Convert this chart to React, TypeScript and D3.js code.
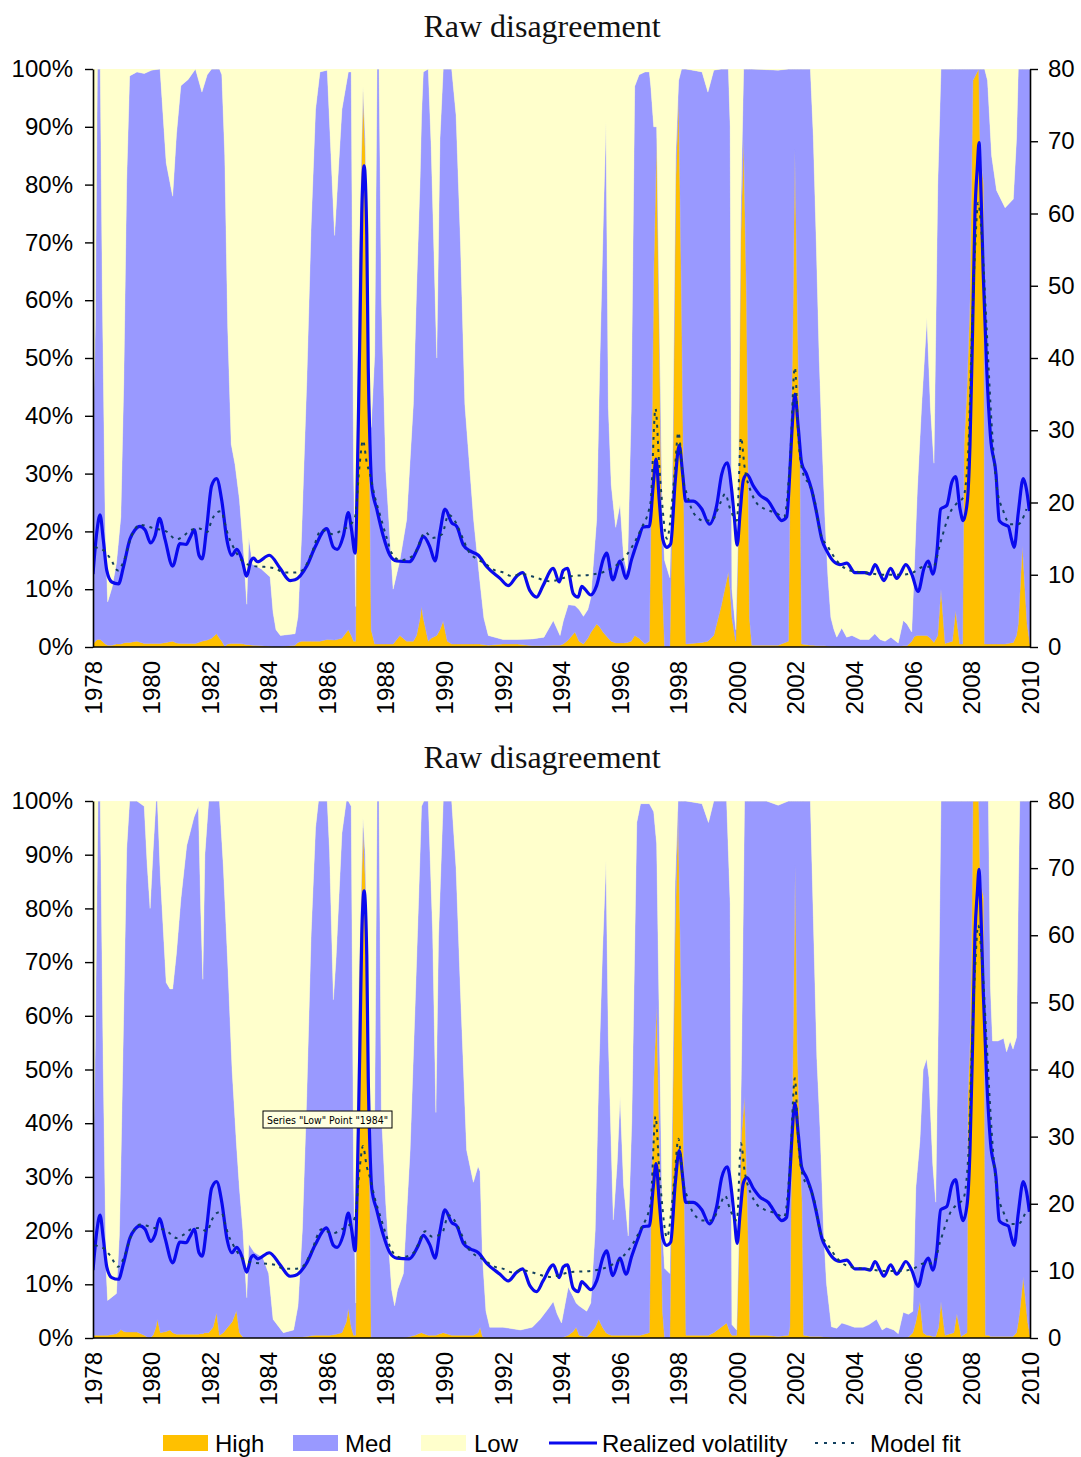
import { useEffect, useRef } from "react";
import * as d3 from "d3";

// [year, High %, Med %]  (Low = the rest up to 100%)
type ShareRow = [number, number, number];
type Point = [number, number];

const topShares: ShareRow[] = [
  [1978.0, 0.5, 35], [1978.08, 1, 55], [1978.15, 1.3, 98.7], [1978.25, 1.3, 98.7], [1978.32, 1, 60],
  [1978.42, 0.5, 20], [1978.5, 0.3, 7.5], [1978.65, 0.3, 10], [1978.8, 0.5, 14], [1978.95, 0.5, 22],
  [1979.05, 0.7, 45], [1979.15, 0.8, 80], [1979.25, 0.8, 98], [1979.5, 1, 98.5], [1979.75, 0.6, 98.6],
  [1980.0, 0.6, 99.2], [1980.29, 0.6, 99.4], [1980.5, 0.8, 83], [1980.72, 1, 77], [1980.85, 0.7, 88],
  [1981.0, 0.6, 96.5], [1981.25, 0.6, 97.6], [1981.5, 0.6, 99.4], [1981.72, 1, 95], [1981.9, 1.2, 97.8],
  [1982.05, 1.5, 98.5], [1982.22, 2.3, 97.7], [1982.32, 1.5, 98.5], [1982.4, 1, 98], [1982.5, 0.1, 85],
  [1982.6, 0.5, 55], [1982.72, 0.6, 34.5], [1982.85, 0.6, 31], [1983.0, 0.6, 25], [1983.15, 0.5, 15.5],
  [1983.25, 0.4, 7], [1983.32, 0.4, 18.6], [1983.45, 0.3, 14], [1983.75, 0.2, 13.3], [1984.05, 0.1, 12],
  [1984.15, 0, 6], [1984.25, 0, 3], [1984.4, 0, 2], [1984.9, 0.3, 2], [1985.0, 0.8, 4.5],
  [1985.12, 1, 18], [1985.3, 1, 45], [1985.45, 1, 72], [1985.6, 1, 92], [1985.75, 1, 98.5],
  [1986.0, 1.3, 98.5], [1986.25, 1.2, 70], [1986.5, 1.5, 91.5], [1986.72, 3, 96.5], [1986.82, 2, 97.5],
  [1986.9, 1, 30], [1986.97, 1, 6], [1987.0, 30, 2], [1987.08, 65, 2], [1987.22, 96, 1],
  [1987.3, 85, 3], [1987.42, 45, 5], [1987.5, 3, 35], [1987.62, 0.5, 50], [1987.7, 0.5, 99.5],
  [1987.77, 0.5, 99.5], [1987.85, 0.5, 60], [1988.0, 0.5, 30], [1988.25, 0.5, 9.5], [1988.48, 2, 13],
  [1988.71, 1, 21], [1988.94, 1, 41], [1989.05, 2, 60], [1989.17, 5, 76], [1989.22, 7, 85],
  [1989.28, 5, 94.5], [1989.45, 1, 99], [1989.55, 1.5, 85], [1989.74, 2, 48], [1989.85, 3, 85],
  [1989.96, 4.5, 95.5], [1990.1, 1, 99], [1990.25, 0.5, 99.5], [1990.4, 0.5, 91.5], [1990.55, 0.5, 69.5],
  [1990.7, 0.5, 41.5], [1990.85, 0.5, 31.5], [1991.0, 0.5, 21.5], [1991.2, 0.5, 11.5], [1991.35, 0.4, 4.6],
  [1991.5, 0.3, 1.7], [1992.0, 0.5, 0.8], [1992.5, 0.5, 0.8], [1993.0, 0.2, 1.2], [1993.4, 0.2, 1.5],
  [1993.72, 0.3, 4.3], [1993.95, 0.3, 1.7], [1994.06, 0.5, 4], [1994.23, 1.2, 6.1], [1994.46, 2.6, 4.6],
  [1994.6, 1, 5.5], [1994.75, 0.5, 4.8], [1994.9, 1.5, 5], [1995.0, 2.5, 6], [1995.2, 4, 18],
  [1995.3, 3.5, 44], [1995.43, 2.5, 72], [1995.52, 2, 89], [1995.6, 1.5, 40], [1995.7, 1, 27],
  [1995.85, 0.7, 20], [1996.0, 0.7, 24], [1996.12, 0.7, 15], [1996.25, 0.8, 12], [1996.38, 1, 40],
  [1996.5, 2, 95], [1996.65, 1.5, 97.5], [1996.85, 0.5, 99], [1997.0, 1, 98.5], [1997.05, 20, 77],
  [1997.15, 65, 25], [1997.25, 88, 2], [1997.35, 50, 5], [1997.45, 10, 12], [1997.52, 0, 15],
  [1997.7, 0, 12], [1997.8, 30, 5], [1997.9, 80, 5], [1998.0, 95, 3], [1998.1, 60, 40],
  [1998.2, 15, 85], [1998.25, 0.5, 99.5], [1998.8, 0.8, 98.7], [1999.0, 1, 95], [1999.2, 2, 97.8],
  [1999.45, 7, 93], [1999.7, 13, 87], [1999.76, 10, 80], [1999.82, 5, 5], [1999.95, 1, 2],
  [2000.02, 15, 2], [2000.12, 70, 5], [2000.22, 88, 12], [2000.32, 60, 40], [2000.42, 5, 95],
  [2000.5, 0.3, 99.7], [2001.4, 0.3, 99.5], [2001.75, 1, 99], [2001.8, 25, 75], [2001.9, 55, 45],
  [2001.97, 86, 14], [2002.05, 60, 40], [2002.15, 30, 70], [2002.2, 0.5, 99.5], [2002.5, 0.3, 99.7],
  [2002.6, 0.3, 88], [2002.7, 0.2, 70], [2002.8, 0.2, 50], [2002.9, 0.2, 35], [2003.0, 0.2, 22],
  [2003.1, 0.1, 12], [2003.2, 0.1, 5], [2003.3, 0.1, 3], [2003.4, 0, 1.7], [2003.57, 0, 3.3],
  [2003.74, 0, 1.7], [2003.92, 0, 2], [2004.2, 0, 1.3], [2004.5, 0, 1.3], [2004.7, 0, 2.3],
  [2004.88, 0, 1.3], [2005.05, 0, 1], [2005.25, 0, 1.7], [2005.5, 0, 0.7], [2005.67, 0.2, 4.4],
  [2005.8, 0.2, 3.8], [2005.96, 1, 1.6], [2006.05, 1.8, 12], [2006.15, 2, 25], [2006.3, 2, 40],
  [2006.48, 2, 55], [2006.6, 1.5, 40], [2006.72, 0.8, 31], [2006.85, 2, 78], [2006.96, 10, 90],
  [2007.1, 0.6, 99.4], [2007.35, 1, 99], [2007.46, 6.3, 93.7], [2007.6, 0.5, 99.5], [2007.7, 0.5, 99.5],
  [2007.75, 35, 65], [2007.85, 45, 55], [2007.95, 60, 40], [2008.05, 98, 2], [2008.25, 100, 0],
  [2008.3, 85, 15], [2008.42, 80, 20], [2008.45, 0.5, 99.5], [2008.55, 0.5, 97.5], [2008.69, 0.5, 84.5],
  [2008.86, 0.5, 78.5], [2009.15, 0.5, 75.5], [2009.43, 0.8, 76.7], [2009.54, 2, 86], [2009.6, 4, 96],
  [2009.74, 17.5, 82.5], [2009.9, 4, 96], [2010.0, 0.5, 99.5],
];

const bottomShares: ShareRow[] = [
  [1978.0, 0.5, 28], [1978.08, 0.5, 55], [1978.17, 0.5, 99.5], [1978.25, 0.5, 99.5], [1978.35, 0.5, 50],
  [1978.45, 0.5, 12], [1978.5, 0.5, 6.5], [1978.8, 0.8, 7.5], [1978.9, 1.2, 18], [1978.95, 1.6, 30],
  [1979.05, 1.2, 60], [1979.15, 1.1, 90], [1979.25, 1.1, 98.9], [1979.5, 1.1, 98.9], [1979.75, 0.5, 98.5],
  [1979.85, 0.2, 88], [1979.95, 0, 80], [1980.05, 0.5, 90], [1980.15, 2, 98], [1980.2, 3.5, 96.5],
  [1980.3, 1, 85], [1980.5, 1.2, 65], [1980.63, 1.5, 63.5], [1980.72, 1, 64], [1980.85, 0.7, 71],
  [1981.0, 0.7, 81], [1981.2, 0.7, 91], [1981.45, 0.7, 96.3], [1981.6, 0.7, 98.3], [1981.68, 0.8, 79],
  [1981.75, 0.8, 66], [1981.82, 1, 89], [1981.95, 1, 99], [1982.1, 2, 98], [1982.22, 4.7, 95.3],
  [1982.32, 0.5, 99.5], [1982.45, 1, 87], [1982.6, 2, 68], [1982.75, 3, 47], [1982.9, 5.1, 31],
  [1983.0, 1, 27], [1983.12, 0.2, 19.8], [1983.25, 0, 7.5], [1983.32, 0, 17.5], [1983.5, 0, 16],
  [1983.8, 0, 15], [1984.0, 0, 12], [1984.15, 0, 3.5], [1984.5, 0, 1], [1984.85, 0.2, 1.3],
  [1985.0, 0.2, 5.8], [1985.15, 0.2, 20], [1985.3, 0.3, 45], [1985.45, 0.4, 75], [1985.6, 0.5, 94.5],
  [1985.7, 0.5, 99.5], [1986.0, 0.5, 99.5], [1986.08, 0.5, 90], [1986.21, 0.6, 62.4], [1986.3, 0.7, 70],
  [1986.5, 1, 93], [1986.65, 3, 97], [1986.72, 5.5, 94.5], [1986.82, 2, 97], [1986.9, 0.5, 30],
  [1986.97, 0.5, 6], [1987.0, 30, 2], [1987.08, 65, 2], [1987.22, 95, 2], [1987.3, 85, 5],
  [1987.42, 45, 10], [1987.5, 0, 40], [1987.62, 0, 42], [1987.7, 0, 100], [1987.77, 0, 100],
  [1987.85, 0, 42], [1988.0, 0, 25], [1988.2, 0, 9], [1988.3, 0, 6], [1988.4, 0, 9],
  [1988.6, 0, 12], [1988.83, 0.3, 34.7], [1989.0, 0.5, 61.5], [1989.12, 0.8, 81], [1989.22, 1, 98],
  [1989.3, 0.8, 99.2], [1989.45, 0.5, 99.5], [1989.6, 0.5, 75], [1989.71, 0.5, 41.5], [1989.8, 0.7, 74],
  [1989.96, 1, 99], [1990.25, 0.5, 99.5], [1990.4, 0.5, 87], [1990.55, 0.5, 64], [1990.76, 0.5, 34.5],
  [1990.99, 0.5, 28.5], [1991.15, 1, 31], [1991.22, 2, 29], [1991.3, 0.3, 15], [1991.42, 0, 5],
  [1991.55, 0, 2], [1992.0, 0, 2], [1992.6, 0, 1.5], [1993.0, 0, 2], [1993.27, 0, 3.5],
  [1993.55, 0, 5.5], [1993.72, 0, 6.8], [1993.85, 0, 4.5], [1994.0, 0, 2.8], [1994.23, 0.5, 9],
  [1994.4, 1.2, 6.5], [1994.5, 2, 4.5], [1994.6, 0.5, 5.5], [1994.86, 0.2, 4.8], [1995.0, 1, 5.5],
  [1995.15, 2, 18], [1995.27, 3.5, 45], [1995.4, 2, 70], [1995.52, 1, 88], [1995.6, 0.7, 55],
  [1995.7, 0.5, 35], [1995.77, 0.5, 21.5], [1995.9, 0.5, 32], [1996.0, 0.5, 44.5], [1996.12, 0.5, 28],
  [1996.28, 0.5, 18.5], [1996.4, 0.5, 40], [1996.57, 0.5, 95.5], [1996.7, 0.5, 99], [1997.0, 1, 98.5],
  [1997.05, 20, 79], [1997.15, 48, 50], [1997.25, 62, 30], [1997.35, 35, 20], [1997.45, 5, 15],
  [1997.52, 0, 13], [1997.7, 0, 12], [1997.78, 35, 6], [1997.88, 75, 10], [1997.98, 98, 2],
  [1998.1, 60, 40], [1998.2, 25, 75], [1998.25, 0.5, 99.5], [1998.8, 0.5, 99], [1999.02, 0.5, 95.5],
  [1999.2, 1, 99], [1999.45, 2, 98], [1999.64, 2.8, 97.2], [1999.76, 1, 80], [1999.82, 0.5, 2],
  [1999.98, 0.5, 1], [2000.05, 15, 2], [2000.15, 38, 15], [2000.25, 45, 55], [2000.35, 25, 75],
  [2000.44, 0.5, 99.5], [2001.0, 0.5, 99.5], [2001.4, 0.3, 98.9], [2001.75, 0.5, 99.5], [2001.8, 2, 98],
  [2001.85, 30, 70], [2001.92, 60, 40], [2001.98, 88, 12], [2002.05, 55, 45], [2002.15, 35, 65],
  [2002.22, 25, 75], [2002.27, 0.5, 99.5], [2002.5, 0.3, 99.7], [2002.6, 0.3, 78], [2002.72, 0.3, 52],
  [2002.83, 0.3, 38.7], [2002.95, 0.2, 20], [2003.05, 0.2, 10], [2003.22, 0.1, 2], [2003.4, 0, 1.8],
  [2003.57, 0, 2.8], [2003.74, 0, 2.5], [2004.0, 0, 2], [2004.3, 0, 2], [2004.5, 0, 2.5],
  [2004.76, 0, 3.5], [2004.95, 0, 1.5], [2005.1, 0, 2], [2005.35, 0, 1.5], [2005.5, 0, 0.8],
  [2005.67, 0, 4.8], [2005.85, 0.2, 4.2], [2006.0, 1, 4], [2006.1, 3, 25], [2006.24, 6.8, 30],
  [2006.35, 1, 49], [2006.47, 0.5, 51.5], [2006.55, 0.5, 48], [2006.68, 0.3, 32], [2006.78, 0.3, 25],
  [2006.88, 2, 62], [2006.96, 6.8, 93.2], [2007.1, 0.5, 99.5], [2007.4, 1, 99], [2007.5, 4.5, 95.5],
  [2007.65, 0.3, 99.7], [2007.85, 1, 99], [2007.88, 45, 55], [2007.95, 55, 45], [2008.0, 70, 30],
  [2008.05, 100, 0], [2008.25, 100, 0], [2008.3, 85, 15], [2008.42, 82, 18], [2008.48, 0.5, 99.5],
  [2008.58, 0.5, 99.5], [2008.65, 0.3, 65], [2008.72, 0.3, 55], [2008.9, 0.3, 55], [2009.1, 0.3, 55.5],
  [2009.2, 0.3, 53], [2009.32, 0.3, 55], [2009.42, 0.3, 53.5], [2009.54, 1, 55], [2009.6, 3, 80],
  [2009.65, 5, 95], [2009.77, 11.4, 88.6], [2009.92, 3, 97], [2010.0, 0.5, 99.5],
];

// [year, value] on the right axis
const realizedVol: Point[] = [
  [1978.0, 10.1], [1978.13, 15.9], [1978.24, 18.3], [1978.35, 14.9], [1978.47, 10.6], [1978.64, 9.0],
  [1978.87, 8.75], [1979.04, 11.1], [1979.26, 14.9], [1979.43, 16.2], [1979.6, 16.7], [1979.78, 16.2],
  [1979.97, 14.4], [1980.12, 15.4], [1980.27, 17.8], [1980.46, 14.9], [1980.72, 11.2], [1980.97, 14.3],
  [1981.18, 14.2], [1981.31, 15.1], [1981.46, 16.2], [1981.62, 12.7], [1981.73, 12.2], [1981.88, 16.4],
  [1982.05, 22.3], [1982.22, 23.3], [1982.4, 20.2], [1982.57, 14.9], [1982.74, 12.7], [1982.91, 13.5],
  [1983.08, 12.2], [1983.25, 9.8], [1983.39, 11.9], [1983.48, 12.3], [1983.62, 11.8], [1984.02, 12.7],
  [1984.39, 10.9], [1984.73, 9.2], [1984.9, 9.3], [1985.3, 11.2], [1985.58, 13.8], [1985.98, 16.4],
  [1986.21, 13.8], [1986.34, 13.5], [1986.55, 15.4], [1986.72, 18.6], [1986.83, 16.2], [1986.95, 13.0],
  [1987.06, 30.8], [1987.12, 45], [1987.18, 60], [1987.26, 66.6], [1987.35, 57], [1987.4, 38.7],
  [1987.46, 28], [1987.52, 22.3], [1987.69, 19.1], [1987.91, 15.4], [1988.14, 12.7], [1988.37, 11.9],
  [1988.8, 11.8], [1989.11, 13.8], [1989.28, 15.3], [1989.51, 13.8], [1989.68, 11.9], [1989.85, 15.9],
  [1990.02, 19.1], [1990.25, 17.2], [1990.42, 16.7], [1990.65, 14.1], [1990.88, 13.3], [1991.16, 12.7],
  [1991.45, 11.1], [1991.9, 9.5], [1992.18, 8.5], [1992.47, 9.8], [1992.67, 10.3], [1992.92, 7.8],
  [1993.15, 6.9], [1993.37, 8.5], [1993.72, 10.9], [1993.92, 9.0], [1994.06, 10.6], [1994.2, 10.9],
  [1994.4, 7.4], [1994.57, 6.9], [1994.69, 8.4], [1994.8, 8.0], [1995.0, 7.2], [1995.2, 8.5],
  [1995.43, 12.2], [1995.54, 13.0], [1995.75, 9.3], [1996.0, 11.9], [1996.2, 9.5], [1996.4, 12.2],
  [1996.62, 14.9], [1996.79, 16.6], [1997.0, 16.7], [1997.14, 22.8], [1997.23, 26], [1997.34, 20.2],
  [1997.46, 14.9], [1997.59, 13.8], [1997.73, 14.3], [1997.88, 22.8], [1998.02, 27.9], [1998.14, 23.9],
  [1998.24, 20.2], [1998.5, 20.2], [1998.79, 19.1], [1999.05, 17.0], [1999.3, 19.6], [1999.47, 23.9],
  [1999.66, 25.5], [1999.81, 21.8], [1999.9, 18.0], [2000.0, 14.1], [2000.1, 18.6], [2000.21, 23.1],
  [2000.33, 23.9], [2000.55, 22.3], [2000.78, 21.0], [2001.06, 20.2], [2001.35, 18.3], [2001.52, 17.5],
  [2001.69, 18.0], [2001.78, 22.8], [2001.86, 29.2], [2001.97, 35], [2002.09, 30.2], [2002.2, 25.5],
  [2002.37, 23.9], [2002.54, 21.8], [2002.71, 18.6], [2002.89, 14.9], [2003.06, 13.3], [2003.28, 11.9],
  [2003.51, 11.4], [2003.74, 11.6], [2004.02, 10.3], [2004.36, 10.3], [2004.54, 10.1], [2004.71, 11.4],
  [2004.88, 10.1], [2005.01, 9.2], [2005.24, 10.9], [2005.45, 9.5], [2005.58, 10.2], [2005.76, 11.4],
  [2005.96, 10.1], [2006.18, 7.7], [2006.38, 10.9], [2006.53, 11.9], [2006.68, 10.1], [2006.81, 12.7],
  [2006.95, 19.1], [2007.16, 19.6], [2007.33, 22.8], [2007.46, 23.6], [2007.61, 19.1], [2007.72, 17.5],
  [2007.86, 20.2], [2007.95, 28], [2008.04, 44], [2008.12, 60], [2008.2, 66.3], [2008.26, 69.8],
  [2008.31, 65.3], [2008.4, 52], [2008.52, 38.7], [2008.65, 29.2], [2008.84, 23.9], [2008.95, 17.5],
  [2009.09, 17.0], [2009.26, 16.7], [2009.37, 14.9], [2009.46, 13.8], [2009.6, 18.6], [2009.77, 23.3],
  [2009.88, 21.8], [2009.98, 18.8],
];

const modelFit: Point[] = [
  [1978.06, 13.8], [1978.35, 13.4], [1978.6, 12.2], [1978.85, 10.6], [1979.05, 11.9], [1979.32, 15.4],
  [1979.6, 16.9], [1980.1, 16.4], [1980.5, 16.0], [1980.85, 14.9], [1981.1, 15.4], [1981.35, 16.2],
  [1981.62, 16.4], [1981.9, 15.9], [1982.05, 17.5], [1982.22, 18.6], [1982.38, 18.8], [1982.5, 17.2],
  [1982.62, 15.4], [1982.76, 14.1], [1982.9, 13.0], [1983.15, 11.7], [1983.5, 11.2], [1983.85, 11.1],
  [1984.2, 10.9], [1984.55, 10.3], [1984.9, 10.3], [1985.15, 10.6], [1985.45, 12.8], [1985.8, 16.2],
  [1986.2, 15.6], [1986.5, 16.2], [1986.72, 16.7], [1986.95, 18], [1987.1, 25], [1987.22, 28.6],
  [1987.35, 25.5], [1987.46, 23.9], [1987.63, 20.7], [1987.8, 18.3], [1988.03, 15.1], [1988.2, 13],
  [1988.5, 12], [1988.95, 12.7], [1989.35, 15.9], [1989.58, 15.1], [1989.92, 15.6], [1990.14, 18.3],
  [1990.42, 17], [1990.59, 15.4], [1990.82, 13.3], [1991.1, 12.2], [1991.33, 11.7], [1991.73, 10.6],
  [1992.02, 10.3], [1992.3, 9.8], [1992.64, 10.1], [1992.98, 9.8], [1993.2, 9.5], [1993.6, 9.1],
  [1994.3, 9.8], [1995.0, 10.0], [1995.8, 11.1], [1996.4, 13.8], [1996.7, 16.2], [1997.04, 20],
  [1997.21, 33], [1997.34, 25], [1997.42, 20.7], [1997.6, 15], [1997.86, 23.9], [1997.99, 29.7],
  [1998.17, 22.8], [1998.28, 21.2], [1998.5, 18.6], [1998.85, 17.5], [1999.13, 17.5], [1999.42, 19.9],
  [1999.59, 21.2], [1999.76, 19.1], [1999.99, 17.5], [2000.13, 29], [2000.25, 25], [2000.5, 21.2],
  [2000.67, 19.9], [2000.95, 19.1], [2001.3, 18.6], [2001.6, 18], [2001.8, 25.5], [2001.97, 38.7],
  [2002.09, 29], [2002.26, 23.9], [2002.49, 22.3], [2002.66, 20], [2002.83, 15.9], [2003.11, 13.8],
  [2003.45, 11.7], [2003.85, 10.6], [2004.4, 10.3], [2005.0, 10], [2005.6, 10], [2006.0, 10.3],
  [2006.36, 11.1], [2006.7, 11.1], [2006.93, 14.3], [2007.27, 18.6], [2007.5, 19.9], [2007.72, 20.7],
  [2007.89, 27], [2008.0, 41.4], [2008.12, 54.6], [2008.23, 61.5], [2008.35, 57], [2008.52, 44],
  [2008.69, 30.8], [2008.86, 22.3], [2009.09, 18.8], [2009.32, 17], [2009.6, 17], [2009.88, 19.1],
];

const yearTicks = [1978, 1980, 1982, 1984, 1986, 1988, 1990, 1992, 1994, 1996, 1998, 2000, 2002, 2004, 2006, 2008, 2010];
const shareTicks = [0, 10, 20, 30, 40, 50, 60, 70, 80, 90, 100];
const volTicks = [0, 10, 20, 30, 40, 50, 60, 70, 80];

const shareKeys = ["high", "med", "low"];
const shareLabels = ["High", "Med", "Low"];
const shareColors = ["#FFC000", "#9999FF", "#FFFFCC"];
const volColor = "#0a0aee";
const fitColor = "#12405e";

const W = 1081;
const H = 1457;
const X0 = 93;
const X1 = 1030;
const SANS = "'Liberation Sans', Arial, sans-serif";

type ShareDatum = { year: number; high: number; med: number; low: number };

function drawPanel(
  svg: d3.Selection<SVGSVGElement, unknown, null, undefined>,
  rows: ShareRow[],
  top: number,
  bottom: number,
  titleY: number,
  id: string
) {
  const g = svg.append("g");
  const x = d3.scaleLinear().domain([1978, 2010]).range([X0, X1]);
  const y = d3.scaleLinear().domain([0, 100]).range([bottom, top]);
  const yv = d3.scaleLinear().domain([0, 80]).range([bottom, top]);

  g.append("clipPath")
    .attr("id", id)
    .append("rect")
    .attr("x", X0)
    .attr("y", top)
    .attr("width", X1 - X0)
    .attr("height", bottom - top);

  const data: ShareDatum[] = rows.map(([year, high, med]) => {
    const m = Math.min(med, 100 - high);
    return { year, high, med: m, low: Math.max(0, 100 - high - m) };
  });

  const series = d3.stack<ShareDatum>().keys(shareKeys)(data);
  const area = d3
    .area<d3.SeriesPoint<ShareDatum>>()
    .x(d => x(d.data.year))
    .y0(d => y(d[0]))
    .y1(d => y(d[1]));

  const plot = g.append("g").attr("clip-path", `url(#${id})`);
  plot
    .selectAll("path.share")
    .data(series)
    .join("path")
    .attr("class", "share")
    .attr("fill", (_, i) => shareColors[i])
    .attr("stroke", (_, i) => shareColors[i])
    .attr("stroke-width", 0.4)
    .attr("d", area);

  const line = d3
    .line<Point>()
    .x(d => x(d[0]))
    .y(d => yv(d[1]))
    .curve(d3.curveMonotoneX);

  plot
    .append("path")
    .attr("d", line(realizedVol))
    .attr("fill", "none")
    .attr("stroke", volColor)
    .attr("stroke-width", 3.2)
    .attr("stroke-linejoin", "round");

  plot
    .append("path")
    .attr("d", line(modelFit))
    .attr("fill", "none")
    .attr("stroke", fitColor)
    .attr("stroke-width", 2)
    .attr("stroke-dasharray", "3,5");

  // axes
  const left = g
    .append("g")
    .attr("transform", `translate(${X0},0)`)
    .call(
      d3.axisLeft(y)
        .tickValues(shareTicks)
        .tickFormat(d => `${d}%`)
        .tickSize(8)
        .tickSizeOuter(0)
        .tickPadding(12)
    );
  const right = g
    .append("g")
    .attr("transform", `translate(${X1},0)`)
    .call(d3.axisRight(yv).tickValues(volTicks).tickSize(8).tickSizeOuter(0).tickPadding(10));

  [left, right].forEach(a => {
    a.select(".domain").attr("stroke", "#000").attr("stroke-width", 1.6);
    a.selectAll(".tick line").attr("stroke", "#000").attr("stroke-width", 1.4);
    a.selectAll(".tick text")
      .attr("fill", "#000")
      .style("font-family", SANS)
      .style("font-size", "24px");
  });

  g.append("line")
    .attr("x1", X0)
    .attr("x2", X1)
    .attr("y1", bottom)
    .attr("y2", bottom)
    .attr("stroke", "#000")
    .attr("stroke-width", 1.6);

  g.selectAll("text.year")
    .data(yearTicks)
    .join("text")
    .attr("class", "year")
    .attr("transform", d => `translate(${x(d)},${bottom + 14}) rotate(-90)`)
    .attr("text-anchor", "end")
    .attr("dy", "0.36em")
    .style("font-family", SANS)
    .style("font-size", "24px")
    .attr("fill", "#000")
    .text(d => String(d));

  g.append("text")
    .attr("x", 542)
    .attr("y", titleY)
    .attr("text-anchor", "middle")
    .style("font-family", "'Liberation Serif', 'DejaVu Serif', serif")
    .style("font-size", "32px")
    .attr("fill", "#111")
    .text("Raw disagreement");
}

export default function App() {
  const ref = useRef<SVGSVGElement | null>(null);

  useEffect(() => {
    document.body.style.margin = "0";
    if (!ref.current) return;
    const svg = d3.select(ref.current);
    svg.selectAll("*").remove();

    svg.append("rect").attr("width", W).attr("height", H).attr("fill", "#fff");

    drawPanel(svg, topShares, 69, 647, 37, "clipTop");
    drawPanel(svg, bottomShares, 801, 1338, 768, "clipBottom");

    // tooltip left over in the lower chart
    const tip = svg.append("g");
    tip.append("rect")
      .attr("x", 263)
      .attr("y", 1111)
      .attr("width", 129)
      .attr("height", 17)
      .attr("fill", "#ffffe1")
      .attr("stroke", "#000")
      .attr("stroke-width", 1);
    tip.append("text")
      .attr("x", 267)
      .attr("y", 1123.5)
      .attr("textLength", 121)
      .attr("lengthAdjust", "spacingAndGlyphs")
      .style("font-family", "'DejaVu Sans', sans-serif")
      .style("font-size", "10.5px")
      .attr("fill", "#000")
      .text('Series "Low" Point "1984"');

    // legend
    const legend = svg.append("g").style("font-family", SANS).style("font-size", "24px");
    const swatchX = [163, 293, 421];
    const labelX = [215, 345, 474];
    shareLabels.forEach((label, i) => {
      legend.append("rect")
        .attr("x", swatchX[i])
        .attr("y", 1435)
        .attr("width", 45)
        .attr("height", 16)
        .attr("fill", shareColors[i]);
      legend.append("text").attr("x", labelX[i]).attr("y", 1452).attr("fill", "#000").text(label);
    });
    legend.append("line")
      .attr("x1", 549).attr("x2", 597).attr("y1", 1443).attr("y2", 1443)
      .attr("stroke", volColor).attr("stroke-width", 3);
    legend.append("text").attr("x", 602).attr("y", 1452).attr("fill", "#000").text("Realized volatility");
    legend.append("line")
      .attr("x1", 815).attr("x2", 858).attr("y1", 1443).attr("y2", 1443)
      .attr("stroke", fitColor).attr("stroke-width", 2).attr("stroke-dasharray", "3,6");
    legend.append("text").attr("x", 870).attr("y", 1452).attr("fill", "#000").text("Model fit");
  }, []);

  return <svg ref={ref} width={W} height={H} style={{ display: "block" }} />;
}
